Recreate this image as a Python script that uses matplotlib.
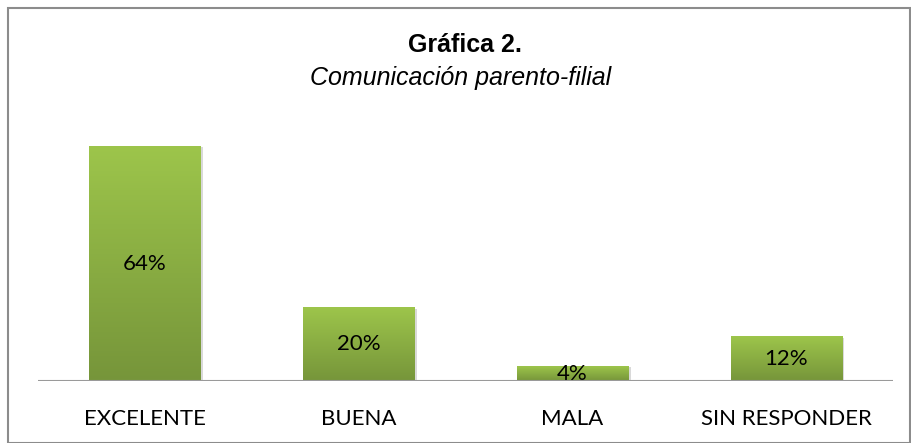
import numpy as np
import matplotlib.pyplot as plt
from matplotlib.patches import Rectangle
from matplotlib.colors import LinearSegmentedColormap

categorias = ['EXCELENTE', 'BUENA', 'MALA', 'SIN RESPONDER']
porcentajes = [64, 20, 4, 12]
etiquetas = ['64%', '20%', '4%', '12%']

fig = plt.figure(figsize=(9.11, 4.43), dpi=100)
ax = fig.add_axes([38 / 911, 62 / 443, 855 / 911, 257 / 443])

# borde del grafico
fig.patches.append(Rectangle((8 / 911, 0), 902 / 911, 435 / 443, transform=fig.transFigure,
                             fill=False, edgecolor='#8c8c8c', lw=1.5))

verde = LinearSegmentedColormap.from_list('verde', ['#76953a', '#9dc54b'])
x = np.arange(len(categorias))
barras = ax.bar(x, porcentajes, width=0.52, color='none')
grad = np.linspace(0, 1, 256).reshape(-1, 1)
for b in barras:
    x0, w, h = b.get_x(), b.get_width(), b.get_height()
    # sombra
    ax.add_patch(Rectangle((x0 + 0.012, -0.5), w, h + 0.2, color='#d9d9d9', zorder=1, lw=0))
    ax.imshow(grad, extent=[x0, x0 + w, 0, h], origin='lower', cmap=verde,
              aspect='auto', zorder=2)

for xi, v, t in zip(x, porcentajes, etiquetas):
    ax.text(xi, v / 2, t, ha='center', va='center', fontsize=16, family='Lato', zorder=3)

ax.axhline(0, color='#9a9a9a', lw=1.5, zorder=4)
ax.set_xlim(-0.5, 3.5)
ax.set_ylim(0, 70)
ax.set_xticks(x)
ax.set_xticklabels(categorias, fontsize=16, family='Lato')
ax.tick_params(axis='x', length=0, pad=20)
ax.set_yticks([])
for s in ax.spines.values():
    s.set_visible(False)

fig.text(465 / 911, 1 - 45 / 443, 'Gráfica 2.', ha='center', va='center',
         fontsize=18, fontweight='bold', family='Liberation Sans')
fig.text(461 / 911, 1 - 78 / 443, 'Comunicación parento-filial', ha='center', va='center',
         fontsize=18, style='italic', family='Liberation Sans')

fig.savefig('out.png', dpi=100)
